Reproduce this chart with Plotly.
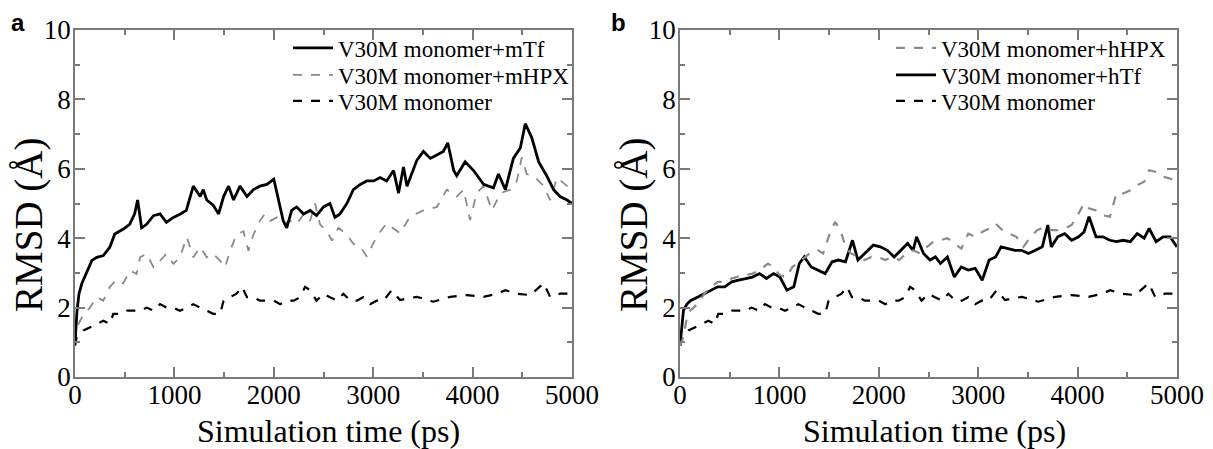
import plotly.graph_objects as go

# ---- data ----
mTf_t = [0, 20, 40, 70, 100, 170, 220, 285, 350, 400, 490, 550, 600, 630, 670, 720, 790, 855, 920, 990,
         1060, 1120, 1190, 1260, 1290, 1325, 1390, 1445, 1495, 1545, 1595, 1660, 1730, 1795, 1860, 1930,
         2000, 2045, 2095, 2130, 2180, 2230, 2300, 2365, 2430, 2500, 2565, 2615, 2665, 2735, 2800, 2870,
         2935, 3005, 3070, 3135, 3205, 3255, 3305, 3340, 3390, 3440, 3505, 3575, 3640, 3705, 3750, 3810,
         3840, 3925, 4010, 4110, 4210, 4260, 4330, 4410, 4480, 4530, 4595, 4665, 4745, 4815, 4880, 4950, 5000]
mTf_v = [1.0, 1.9, 2.4, 2.7, 2.9, 3.36, 3.45, 3.5, 3.74, 4.12, 4.27, 4.4, 4.7, 5.1, 4.3, 4.4, 4.65, 4.7, 4.46, 4.6,
         4.7, 4.8, 5.5, 5.2, 5.4, 5.1, 4.95, 4.7, 5.2, 5.5, 5.1, 5.5, 5.2, 5.4, 5.5, 5.55,
         5.7, 5.1, 4.5, 4.3, 4.8, 4.9, 4.7, 4.8, 4.65, 4.9, 5.0, 4.6, 4.7, 5.0, 5.4, 5.55,
         5.65, 5.65, 5.75, 5.65, 5.95, 5.3, 6.05, 5.5, 5.85, 6.25, 6.5, 6.3, 6.4, 6.5, 6.75, 5.95,
         5.8, 6.2, 5.95, 5.55, 5.45, 5.85, 5.4, 6.3, 6.6, 7.3, 6.9, 6.2, 5.8, 5.4, 5.2, 5.1, 5.0]

mHPX_t = [0, 17, 85, 150, 220, 285, 350, 420, 485, 555, 620, 655, 720, 790, 855, 920, 990, 1055, 1125, 1190,
          1260, 1325, 1390, 1460, 1510, 1560, 1625, 1695, 1745, 1795, 1860, 1910, 1965, 2030, 2095, 2165,
          2230, 2300, 2365, 2415, 2465, 2535, 2585, 2650, 2735, 2800, 2870, 2935, 3035, 3135, 3270, 3370,
          3505, 3640, 3740, 3840, 3910, 3975, 4040, 4110, 4195, 4280, 4380, 4445, 4495, 4545, 4630, 4715,
          4780, 4850, 4930, 5000]
mHPX_v = [1.0, 1.43, 1.8, 2.0, 2.3, 2.2, 2.6, 2.8, 2.7, 3.07, 2.97, 3.45, 3.55, 3.16, 3.35, 3.55, 3.26, 3.45, 4.03, 3.45,
          3.74, 3.45, 3.55, 3.35, 3.16, 3.64, 4.1, 4.2, 3.64, 4.1, 4.5, 4.7, 4.5, 4.6, 4.4, 4.5,
          4.4, 4.7, 4.5, 5.0, 4.4, 4.2, 3.93, 4.3, 4.1, 3.84, 3.76, 3.47, 4.05, 4.43, 4.14, 4.62,
          4.8, 4.9, 5.4, 5.2, 5.4, 4.52, 5.3, 5.5, 4.8, 5.3, 5.4, 5.65, 6.33, 5.85, 5.75, 5.5,
          5.1, 5.75, 5.55, 5.4]

mono_t = [0, 17, 85, 150, 220, 285, 350, 385, 455, 520, 585, 655, 720, 790, 855, 920, 990, 1055, 1125, 1190,
          1260, 1325, 1390, 1460, 1495, 1560, 1625, 1680, 1730, 1795, 1860, 1930, 2000, 2065, 2130, 2200,
          2265, 2315, 2365, 2430, 2500, 2565, 2635, 2700, 2770, 2835, 2900, 2970, 3035, 3105, 3185, 3270,
          3440, 3605, 3775, 3940, 4110, 4245, 4330, 4445, 4580, 4715, 4780, 4880, 5000]
mono_v = [0.9, 1.15, 1.34, 1.43, 1.53, 1.62, 1.53, 1.82, 1.82, 1.91, 1.91, 1.91, 2.0, 1.91, 2.1, 2.0, 2.0, 1.91, 2.0, 2.1,
          2.0, 1.91, 1.82, 1.82, 2.2, 2.3, 2.4, 2.6, 2.3, 2.3, 2.2, 2.2, 2.2, 2.1, 2.2, 2.2,
          2.3, 2.6, 2.5, 2.2, 2.4, 2.3, 2.2, 2.4, 2.2, 2.2, 2.3, 2.1, 2.2, 2.2, 2.5, 2.22,
          2.31, 2.17, 2.31, 2.36, 2.31, 2.4, 2.5, 2.4, 2.36, 2.7, 2.31, 2.4, 2.4]

hHPX_t = [0, 35, 70, 105, 175, 245, 315, 380, 450, 520, 590, 660, 730, 800, 885, 940, 1005, 1075, 1130, 1200,
          1265, 1320, 1390, 1440, 1495, 1560, 1615, 1665, 1720, 1790, 1860, 1925, 1995, 2065, 2135, 2205,
          2275, 2345, 2415, 2485, 2550, 2620, 2690, 2760, 2830, 2900, 2970, 3040, 3110, 3175, 3245, 3315,
          3385, 3455, 3525, 3595, 3665, 3735, 3800, 3870, 3940, 4010, 4065, 4115, 4185, 4255, 4325, 4390,
          4460, 4530, 4600, 4670, 4720, 4790, 4860, 4930, 5000]
hHPX_v = [0.9, 1.15, 1.73, 1.92, 2.1, 2.4, 2.6, 2.74, 2.74, 2.84, 2.9, 2.93, 2.98, 3.08, 3.27, 3.17, 2.93, 2.88, 3.17, 3.32,
          3.46, 3.6, 3.65, 3.56, 4.04, 4.47, 4.23, 3.75, 3.56, 3.46, 3.37, 3.46, 3.46, 3.37, 3.46, 3.37,
          3.56, 3.65, 3.56, 3.75, 3.9, 3.94, 4.0, 3.85, 3.7, 4.13, 4.04, 4.18, 4.28, 4.42, 4.23, 4.13,
          4.04, 3.75, 4.04, 4.23, 4.33, 4.23, 4.23, 4.28, 4.38, 4.71, 5.0, 4.86, 4.8, 4.66, 4.62, 5.29,
          5.29, 5.38, 5.53, 5.63, 5.96, 5.91, 5.77, 5.72, 5.63]

hTf_t = [0, 35, 70, 105, 175, 245, 315, 380, 450, 520, 590, 660, 730, 800, 870, 940, 1005, 1075, 1145, 1200,
         1250, 1320, 1390, 1460, 1530, 1595, 1665, 1735, 1790, 1860, 1945, 2015, 2085, 2155, 2220, 2290,
         2345, 2380, 2450, 2515, 2570, 2620, 2690, 2760, 2830, 2900, 2970, 3040, 3110, 3175, 3230, 3300,
         3370, 3435, 3505, 3575, 3645, 3700, 3735, 3800, 3870, 3940, 4010, 4065, 4115, 4185, 4255, 4325,
         4390, 4460, 4530, 4600, 4670, 4720, 4790, 4860, 4930, 5000]
hTf_v = [0.9, 1.92, 2.1, 2.2, 2.3, 2.4, 2.5, 2.6, 2.6, 2.74, 2.79, 2.84, 2.88, 2.98, 2.84, 2.98, 2.88, 2.5, 2.6, 3.27,
         3.46, 3.17, 3.08, 2.98, 3.32, 3.37, 3.32, 3.94, 3.37, 3.56, 3.8, 3.75, 3.65, 3.46, 3.65, 3.85,
         3.65, 4.04, 3.56, 3.37, 3.46, 3.27, 3.46, 2.88, 3.17, 3.08, 3.13, 2.79, 3.37, 3.46, 3.75, 3.7,
         3.65, 3.65, 3.56, 3.65, 3.75, 4.38, 3.75, 4.04, 4.13, 3.94, 4.04, 4.18, 4.62, 4.04, 4.04, 3.94,
         3.9, 3.94, 3.9, 4.13, 4.0, 4.28, 3.9, 4.04, 4.04, 3.75]

x_ticks = [0, 1000, 2000, 3000, 4000, 5000]
y_ticks = [0, 2, 4, 6, 8, 10]
panel_labels = ["a", "b"]
x_title = "Simulation time (ps)"
y_title = "RMSD (Å)"

# ---- figure ----
SERIF = "Liberation Serif"
GRAY_AX = "#7a7a7a"
W, H = 1213, 449
def px(xp): return xp / W
def py(yp): return 1 - yp / H

fig = go.Figure()

def add(x, y, name, color, dash, width, xa, ya, leg):
    fig.add_trace(go.Scatter(x=x, y=y, mode="lines", name=name,
                             line=dict(color=color, dash=dash, width=width),
                             xaxis=xa, yaxis=ya, legend=leg))

# panel a (draw order: monomer, mHPX, mTf on top); one legend per entry
add(mono_t, mono_v, "V30M monomer", "black", "dash", 2.2, "x", "y", "legend3")
add(mHPX_t, mHPX_v, "V30M monomer+mHPX", "#8a8a8a", "dash", 1.8, "x", "y", "legend2")
add(mTf_t, mTf_v, "V30M monomer+mTf", "black", "solid", 2.8, "x", "y", "legend")
# panel b
add(mono_t, mono_v, "V30M monomer", "black", "dash", 2.2, "x2", "y2", "legend6")
add(hTf_t, hTf_v, "V30M monomer+hTf", "black", "solid", 2.8, "x2", "y2", "legend5")
add(hHPX_t, hHPX_v, "V30M monomer+hHPX", "#8a8a8a", "dash", 2.2, "x2", "y2", "legend4")

xa_common = dict(range=[0, 5000], tickvals=x_ticks, showline=True, mirror="ticks",
                 linecolor=GRAY_AX, linewidth=1.5, ticks="inside", ticklen=10, tickwidth=1.5,
                 tickcolor=GRAY_AX, showgrid=False, zeroline=False, ticklabelstandoff=-7,
                 tickfont=dict(family=SERIF, size=27, color="black"),
                 minor=dict(dtick=500, ticks="inside", ticklen=5, tickwidth=1.5, tickcolor=GRAY_AX, showgrid=False))
ya_common = dict(range=[0, 10], tickvals=y_ticks, showline=True, mirror="ticks",
                 linecolor=GRAY_AX, linewidth=1.5, ticks="inside", ticklen=10, tickwidth=1.5,
                 tickcolor=GRAY_AX, showgrid=False, zeroline=False, ticklabelstandoff=-3,
                 tickfont=dict(family=SERIF, size=27, color="black"),
                 minor=dict(dtick=1, ticks="inside", ticklen=5, tickwidth=1.5, tickcolor=GRAY_AX, showgrid=False))

def leg(xp, yp):
    return dict(x=px(xp), y=py(yp), xanchor="left", yanchor="middle",
                font=dict(family=SERIF, size=23, color="black"), bgcolor="rgba(0,0,0,0)",
                borderwidth=0, itemwidth=40)

fig.update_layout(
    width=W, height=H, margin=dict(l=0, r=0, t=0, b=0, autoexpand=False),
    font=dict(family=SERIF, color="black"),
    paper_bgcolor="white", plot_bgcolor="white",
    xaxis=dict(domain=[px(75), px(572)], anchor="y", **xa_common),
    yaxis=dict(domain=[py(377), py(30)], anchor="x", **ya_common),
    xaxis2=dict(domain=[px(680), px(1177)], anchor="y2", **xa_common),
    yaxis2=dict(domain=[py(377), py(30)], anchor="x2", **ya_common),
    legend=leg(288, 48), legend2=leg(288, 75), legend3=leg(288, 101),
    legend4=leg(891, 48), legend5=leg(891, 75), legend6=leg(891, 101),
    showlegend=True,
)

annots = []
for xc, lab in [(18, panel_labels[0]), (618, panel_labels[1])]:
    annots.append(dict(x=px(xc), y=py(22), xref="paper", yref="paper", text=lab, showarrow=False,
                       font=dict(family="Liberation Sans", size=24, color="black", weight="bold"),
                       xanchor="center", yanchor="middle"))
for xc in [29, 634]:
    annots.append(dict(x=px(xc), y=py(225), xref="paper", yref="paper", text=y_title, showarrow=False,
                       textangle=-90, font=dict(family=SERIF, size=39, color="black"),
                       xanchor="center", yanchor="middle"))
for xc in [328, 934]:
    annots.append(dict(x=px(xc), y=py(431), xref="paper", yref="paper", text=x_title, showarrow=False,
                       font=dict(family=SERIF, size=32, color="black"),
                       xanchor="center", yanchor="middle"))
fig.update_layout(annotations=annots)

fig.write_html("out.html", config={"displayModeBar": False},
               post_script="document.body.style.margin='0';document.body.style.overflow='hidden';")
